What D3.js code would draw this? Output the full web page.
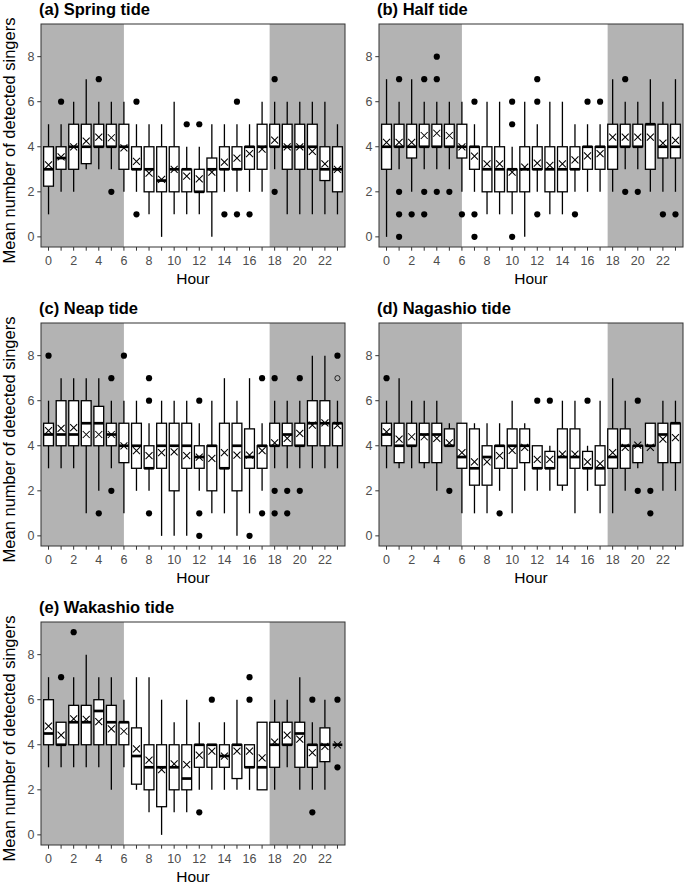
<!DOCTYPE html>
<html><head><meta charset="utf-8">
<script src="https://cdn.jsdelivr.net/npm/d3@7"></script>
<style>body{margin:0;background:#fff}svg{display:block;font-family:"Liberation Sans",Arial,sans-serif}</style>
</head><body>
<svg id="chart" width="685" height="884"></svg>
<script>
// ---- categories & ticks ----
const hours = [0,1,2,3,4,5,6,7,8,9,10,11,12,13,14,15,16,17,18,19,20,21,22,23];
const xTickLabels = [0,2,4,6,8,10,12,14,16,18,20,22];
const yTicks = [0,2,4,6,8];
const nightEnd = 6, nightStart = 17.6;
const panelTitles = ["(a) Spring tide","(b) Half tide","(c) Neap tide","(d) Nagashio tide","(e) Wakashio tide"];
const yLabel = "Mean number of detected singers";
const xLabel = "Hour";

// ---- (a) Spring tide ----
const springLow    = [1,2,2,3,3,3,2,2,1,0,1,1,1,0,2,2,2,2,3,1,1,1,1,1];
const springQ1     = [2.25,3,3,3.25,4,4,3,3,2,2,2,2,2,2,3,3,3,3,4,3,3,3,2.5,2];
const springMedian = [3,3.5,4,4,4,4,4,3,3,2.5,3,3,2,3,3,3,4,4,4,4,4,4,3,3];
const springQ3     = [4,4,5,5,5,5,5,4,4,4,4,3,3,3.5,4,4,4,5,5,5,5,5,4,4];
const springHigh   = [5,5,6,7,6,6,6,5,5,5,6,4,4,5,5,5,5,6,6,6,6,6,6,5];
const springMean   = [3.2,3.55,4.0,4.25,4.43,4.4,3.95,3.35,2.83,2.55,3.0,2.7,2.57,2.87,3.32,3.5,3.69,3.9,4.3,4.0,4.0,3.8,3.24,3.0];
const springOut    = [[],[6],[],[],[7],[2],[],[6,1],[],[],[],[5],[5],[],[1],[6,1],[1],[],[7,2],[],[],[],[],[]];

// ---- (b) Half tide ----
const halfLow    = [0,3,2,3,3,3,2,2,1,1,1,0,2,1,1,2,2,2,2,3,3,2,2,2];
const halfQ1     = [3,4,3.5,4,4,4,3.5,3,2,2,2,2,3,2,2,3,3,3,3,4,4,3,3.5,3.5];
const halfMedian = [4,4,4,4,4,4,4,4,3,3,3,3,3,3,3,3,4,4,4,4,4,5,4,4];
const halfQ3     = [5,5,5,5,5,5,5,4,4,4,3,4,4,4,4,4,4,4,5,5,5,5,5,5];
const halfHigh   = [7,6,7,6,6,6,6,5,6,6,4,6,5,6,6,5,5,5,7,6,6,7,6,7];
const halfMean   = [4.2,4.2,4.2,4.5,4.6,4.5,4.0,3.58,3.24,3.24,2.87,3.1,3.27,3.17,3.24,3.42,3.6,3.69,4.43,4.43,4.43,4.43,4.16,4.28];
const halfOut    = [[],[7,2,1,0],[1],[7,2,1],[8,7,2],[2],[1],[6,1,0],[],[],[6,5,0],[],[7,6,1],[],[],[1],[6],[6],[],[7,2],[2],[],[1],[1]];

// ---- (c) Neap tide ----
const neapLow    = [3,3,3,1,2,3,1,2,2,0,0,0,2,1,1,0,1,2,3,3,3,3,3,3];
const neapQ1     = [4,4,4,4,4,4,3.25,3,3,3,2,3,3,2,3,2,3,3,4,4,4,4,4,4];
const neapMedian = [4.5,4.5,4.5,5,5,4.5,4,4,3,4,4,4,3.5,4,3,4,3.5,4,4,4.5,4,5,5,5];
const neapQ3     = [5,6,6,6,5.75,5,5,5,4,5,5,5,4,4,5,5,4.75,4,5,5,5,6,6,5];
const neapHigh   = [6,7,7,7,7,6,6,6,5,6,6,6,5,6,7,6,7,5,6,6,6,8,8,6];
const neapMean   = [4.67,4.77,4.8,4.5,4.5,4.5,4.0,3.78,3.56,3.7,3.73,3.56,3.5,3.44,3.69,3.58,3.58,3.78,4.13,4.33,4.55,4.92,5.02,4.9];
const neapOut    = [[8],[],[],[],[1],[7,2],[8],[],[7,6,1],[],[],[],[6,1,0],[],[],[],[0],[7,1],[7,2,1],[2,1],[7,2],[],[],[8]];
const neapOpen   = [[],[],[],[],[],[],[],[],[],[],[],[],[],[],[],[],[],[],[],[],[],[],[],[7]];

// ---- (d) Nagashio tide ----
const nagaLow    = [3,3,3,3,2,4,1,1,1,2,1,2,2,2,2,1,2,1,1,2,3,4,2,2];
const nagaQ1     = [4,3.25,4,3.25,3.25,4,3,2.25,2.25,3,3,3.25,3,3,2.25,3,3,2.25,3,3,3.25,4,3.25,3.25];
const nagaMedian = [4.5,4,4,4.5,4.5,4,3.5,3,3.5,4,4,4,3,3,3.5,3.5,3,3,3.5,4,4,4,4.5,5];
const nagaQ3     = [5,5,5,5,5,4.75,5,4.75,4,4,4.75,4.75,4,3.75,4.75,4.75,3.75,4,4.75,4.75,4,5,5,5];
const nagaHigh   = [6,7,6,6,6,5,5,5,5,5,6,5,4,4,6,6,4,6,7,6,4,5,6,6];
const nagaMean   = [4.62,4.3,4.4,4.4,4.33,4.13,3.7,3.29,3.29,3.56,3.8,3.93,3.4,3.4,3.63,3.63,3.29,3.21,3.69,3.93,4.03,3.93,4.3,4.36];
const nagaOut    = [[7],[],[],[],[],[2],[],[],[],[1],[],[],[6],[6],[],[],[6],[],[],[],[6,2],[2,1],[],[]];

// ---- (e) Wakashio tide ----
const wakaLow    = [3,3,3,3,3,2,3,2,1,0,1,1,2,2,2,2,2,2,2,3,2,2,2,4];
const wakaQ1     = [4,4,4,4,4,4,4,2.25,2,1.25,2,2,3,3,3,2.5,3,2,3,4,3,3,3.25,4];
const wakaMedian = [4.5,4,5,5,5.5,5,5,3.5,3,3,3,2.5,4,4,3.5,4,3,3,4,4,4.5,4,4,4];
const wakaQ3     = [6,5,5.75,5.75,6,5.75,5,4.75,4,4,4,4,4,4,4,4,4,5,5,5,5,4,4.75,4];
const wakaHigh   = [7,5,7,8,7,7,6,7,7,6,5,6,5,4,5,6,4,5,6,6,7,5,6,4];
const wakaMean   = [4.83,4.43,5.15,5.13,5.03,4.71,4.6,3.82,3.32,2.9,3.15,3.12,3.54,3.72,3.5,3.72,3.72,3.42,4.12,4.43,4.25,3.65,3.93,4.0];
const wakaOut    = [[],[7],[9],[],[],[],[],[],[],[],[],[],[1],[6],[],[],[7,6],[],[],[],[],[6,1],[],[6,3]];

const panelData = [
  {low:springLow,q1:springQ1,med:springMedian,q3:springQ3,high:springHigh,mean:springMean,out:springOut,open:null},
  {low:halfLow,q1:halfQ1,med:halfMedian,q3:halfQ3,high:halfHigh,mean:halfMean,out:halfOut,open:null},
  {low:neapLow,q1:neapQ1,med:neapMedian,q3:neapQ3,high:neapHigh,mean:neapMean,out:neapOut,open:neapOpen},
  {low:nagaLow,q1:nagaQ1,med:nagaMedian,q3:nagaQ3,high:nagaHigh,mean:nagaMean,out:nagaOut,open:null},
  {low:wakaLow,q1:wakaQ1,med:wakaMedian,q3:wakaQ3,high:wakaHigh,mean:wakaMean,out:wakaOut,open:null}
];

// ---- layout ----
const svg = d3.select("#chart");
const colLeft = [41, 379], rowTop = [24, 323, 622];
const PW = 304, PH = 223;
const shade = "#b3b3b3", frame = "#333333", tickCol = "#4d4d4d";

panelData.forEach((pd, i) => {
  const left = colLeft[i % 2], top = rowTop[Math.floor(i / 2)];
  const x = d3.scaleLinear().domain([-0.6, 23.6]).range([left, left + PW]);
  const y = d3.scaleLinear().domain([-0.45, 9.45]).range([top + PH, top]);
  const g = svg.append("g");
  const bw = (x(1) - x(0)) * 0.78;

  // shaded night
  g.append("rect").attr("x", x(-0.6)).attr("y", top).attr("width", x(nightEnd) - x(-0.6)).attr("height", PH).attr("fill", shade);
  g.append("rect").attr("x", x(nightStart)).attr("y", top).attr("width", x(23.6) - x(nightStart)).attr("height", PH).attr("fill", shade);

  const items = hours.map((h, k) => ({h, low: pd.low[k], q1: pd.q1[k], med: pd.med[k], q3: pd.q3[k], high: pd.high[k], mean: pd.mean[k], out: pd.out[k], open: pd.open ? pd.open[k] : []}));
  const bx = g.selectAll("g.box").data(items).join("g").attr("class", "box");
  // whiskers
  bx.append("line").attr("x1", d => x(d.h)).attr("x2", d => x(d.h)).attr("y1", d => y(d.high)).attr("y2", d => y(d.q3)).attr("stroke", "#000").attr("stroke-width", 1.3);
  bx.append("line").attr("x1", d => x(d.h)).attr("x2", d => x(d.h)).attr("y1", d => y(d.q1)).attr("y2", d => y(d.low)).attr("stroke", "#000").attr("stroke-width", 1.3);
  // box
  bx.append("rect").attr("x", d => x(d.h) - bw / 2).attr("width", bw).attr("y", d => y(d.q3)).attr("height", d => y(d.q1) - y(d.q3))
    .attr("fill", "#fff").attr("stroke", "#000").attr("stroke-width", 1.3);
  // median
  bx.append("line").attr("x1", d => x(d.h) - bw / 2).attr("x2", d => x(d.h) + bw / 2).attr("y1", d => y(d.med)).attr("y2", d => y(d.med)).attr("stroke", "#000").attr("stroke-width", 2.7);
  // mean X
  const s = 3.5;
  bx.append("path").attr("d", d => `M${x(d.h)-s},${y(d.mean)-s}L${x(d.h)+s},${y(d.mean)+s}M${x(d.h)-s},${y(d.mean)+s}L${x(d.h)+s},${y(d.mean)-s}`)
    .attr("stroke", "#000").attr("stroke-width", 1.05).attr("fill", "none");
  // outliers
  bx.selectAll("circle.o").data(d => d.out.map(v => ({h: d.h, v}))).join("circle").attr("class", "o")
    .attr("cx", d => x(d.h)).attr("cy", d => y(d.v)).attr("r", 3.1).attr("fill", "#000");
  bx.selectAll("circle.p").data(d => d.open.map(v => ({h: d.h, v}))).join("circle").attr("class", "p")
    .attr("cx", d => x(d.h)).attr("cy", d => y(d.v)).attr("r", 2.6).attr("fill", "none").attr("stroke", "#000").attr("stroke-width", 0.8);

  // frame
  g.append("rect").attr("x", left).attr("y", top).attr("width", PW).attr("height", PH).attr("fill", "none").attr("stroke", frame).attr("stroke-width", 1);

  // x axis
  const xa = g.append("g").attr("transform", `translate(0,${top + PH})`);
  xa.selectAll("line").data(hours).join("line").attr("x1", d => x(d)).attr("x2", d => x(d)).attr("y1", 0).attr("y2", 3.7).attr("stroke", frame).attr("stroke-width", 1);
  xa.selectAll("text").data(xTickLabels).join("text").attr("x", d => x(d)).attr("y", 17.5).attr("text-anchor", "middle")
    .attr("font-size", 12.5).attr("fill", tickCol).text(d => d);
  g.append("text").attr("x", left + PW / 2).attr("y", top + PH + 37).attr("text-anchor", "middle").attr("font-size", 15.5).attr("fill", "#000").text(xLabel);

  // y axis
  const ya = g.append("g");
  ya.selectAll("line").data(yTicks).join("line").attr("x1", left - 3.7).attr("x2", left).attr("y1", d => y(d)).attr("y2", d => y(d)).attr("stroke", frame).attr("stroke-width", 1);
  ya.selectAll("text").data(yTicks).join("text").attr("x", left - 6.5).attr("y", d => y(d)).attr("dy", "0.36em").attr("text-anchor", "end")
    .attr("font-size", 12.5).attr("fill", tickCol).text(d => d);
  if (i % 2 === 0) {
    g.append("text").attr("transform", `translate(15,${top + PH / 2 + 5}) rotate(-90)`).attr("text-anchor", "middle")
      .attr("font-size", 16.5).attr("fill", "#000").text(yLabel);
  }
  // title
  g.append("text").attr("x", left - 2).attr("y", top - 9.5).attr("font-size", 16.5).attr("font-weight", "bold").attr("fill", "#000").text(panelTitles[i]);
});
</script>
</body></html>
